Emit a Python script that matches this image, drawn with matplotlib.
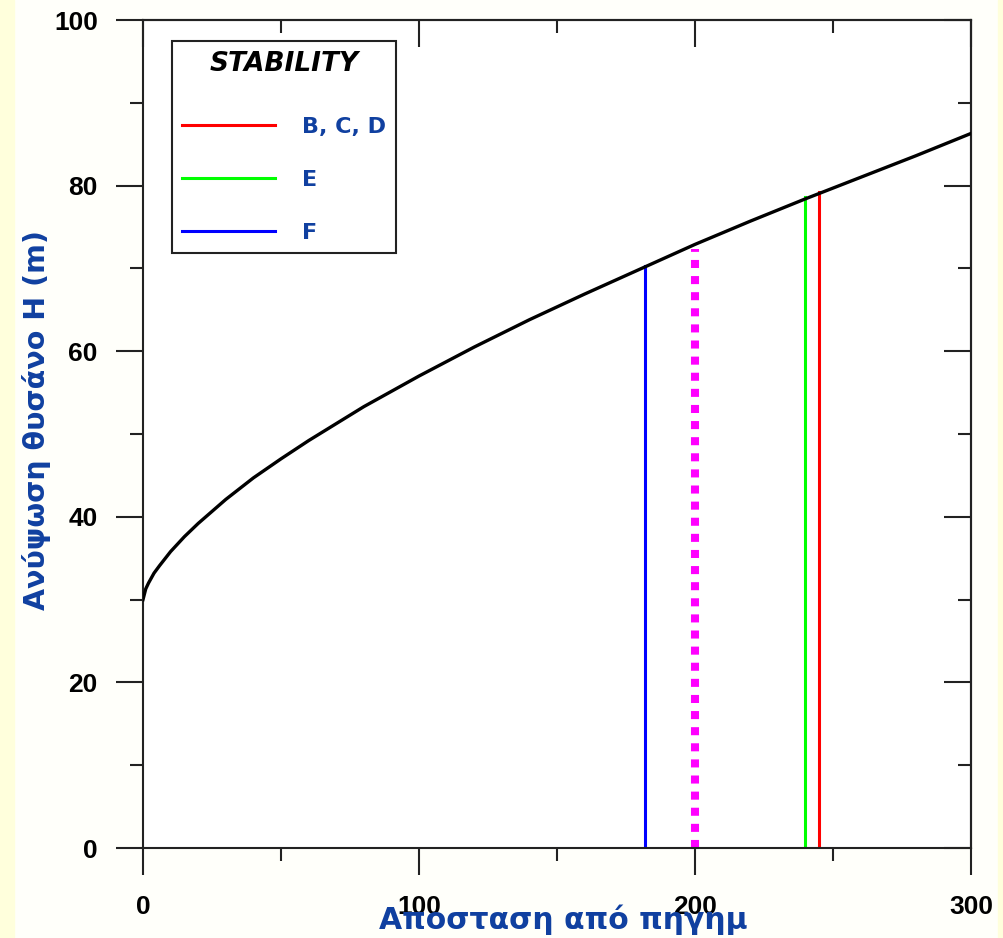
import matplotlib
matplotlib.use("Agg")
import matplotlib.pyplot as plt
from matplotlib.patches import Rectangle

plt.rcParams['font.family'] = ['Liberation Sans', 'DejaVu Sans']

# plume rise curve: distance from source (m) vs plume height H (m)
dist = [0, 1, 2, 4, 6, 10, 15, 20, 30, 40, 50, 60, 80, 100, 120, 140,
        160, 180, 200, 220, 240, 260, 280, 300]
height = [30.0, 31.3, 32.0, 33.2, 34.1, 35.8, 37.6, 39.2, 42.1, 44.7, 47.0,
          49.2, 53.3, 57.0, 60.5, 63.8, 66.9, 69.9, 72.9, 75.7, 78.4, 81.0,
          83.6, 86.3]

# stability class distances and the height reached there
classes = ['B, C, D', 'E', 'F']
class_x = [245, 240, 182]
class_top = [79.2, 78.6, 70.3]
class_colors = ['#ff0000', '#00ff00', '#0000ff']

ref_x = 200
ref_top = 72.3

blue = '#1040a0'

fig = plt.figure(figsize=(10.04, 9.38), dpi=100, facecolor='#fffffa')
fig.patches.append(Rectangle((0, 0), 14 / 1004, 1, transform=fig.transFigure,
                             color='#ffffdc', zorder=-1))
fig.patches.append(Rectangle((998 / 1004, 0), 6 / 1004, 1, transform=fig.transFigure,
                             color='#ffffdc', zorder=-1))

ax = fig.add_axes([143 / 1004, 90 / 938, 828 / 1004, 828 / 938])
ax.set_facecolor('white')

ax.plot(dist, height, color='black', lw=2.4, zorder=3)

handles = []
for lab, x, top, c in zip(classes, class_x, class_top, class_colors):
    ln, = ax.plot([x, x], [0, top], color=c, lw=2.2, label=lab, zorder=2)
    handles.append(ln)

ax.plot([ref_x, ref_x], [0, ref_top], color='#ff00ff', lw=5.8,
        linestyle=(0, (1, 1)), zorder=2)

ax.set_xlim(0, 300)
ax.set_ylim(0, 100)
ax.set_xticks([0, 100, 200, 300])
ax.set_xticks([50, 150, 250], minor=True)
ax.set_yticks([0, 20, 40, 60, 80, 100])
ax.set_yticks(range(10, 100, 20), minor=True)

for sp in ax.spines.values():
    sp.set_linewidth(1.5)
    sp.set_color('#222222')

ax.tick_params(which='both', direction='out', width=1.5, color='#222222',
               top=False, right=False)
ax.tick_params(which='major', length=19.5)
ax.tick_params(which='minor', length=9.5)
ax.tick_params(axis='x', which='major', pad=14)
ax.tick_params(axis='y', which='major', pad=13)
for t in ax.get_xticklabels() + ax.get_yticklabels():
    t.set_fontsize(19)
    t.set_fontweight('bold')

# inward ticks on the top and right sides
top = ax.secondary_xaxis('top')
top.set_xticks([0, 100, 200, 300], labels=[])
top.set_xticks([50, 150, 250], minor=True)
right = ax.secondary_yaxis('right')
right.set_yticks([0, 20, 40, 60, 80, 100], labels=[])
right.set_yticks(range(10, 100, 20), minor=True)
for sec in (top, right):
    sec.tick_params(which='both', direction='in', width=1.5, color='#222222')
    sec.tick_params(which='major', length=19.5)
    sec.tick_params(which='minor', length=9.5)
    for sp in sec.spines.values():
        sp.set_linewidth(1.5)
        sp.set_color('#222222')

leg = ax.legend(handles=handles, title='STABILITY', loc='upper left',
                bbox_to_anchor=(0.035, 0.975), frameon=True, fancybox=False,
                edgecolor='#222222', framealpha=1,
                prop={'family': 'DejaVu Sans', 'size': 16, 'weight': 'bold'},
                handlelength=4.2, handletextpad=1.2, labelspacing=1.475,
                borderpad=0.45, borderaxespad=0,
                title_fontproperties={'family': 'DejaVu Sans', 'size': 19,
                                      'weight': 'bold', 'style': 'italic'})
leg.get_frame().set_linewidth(1.5)
# more room between the title and the first entry
leg._legend_box.sep = 29
for txt in leg.get_texts():
    txt.set_color(blue)

fig.text(563 / 1004, 1 - 920 / 938, 'Αποσταση από πηγημ', color=blue,
         family='DejaVu Sans', fontsize=21.5, fontweight='bold',
         ha='center', va='center')
fig.text(37 / 1004, 1 - 420 / 938, 'Ανύψωση θυσάνο Η (m)', color=blue,
         family='DejaVu Sans', fontsize=20.5, fontweight='bold',
         ha='center', va='center', rotation=90)

fig.savefig('out.png', dpi=100, facecolor=fig.get_facecolor())
